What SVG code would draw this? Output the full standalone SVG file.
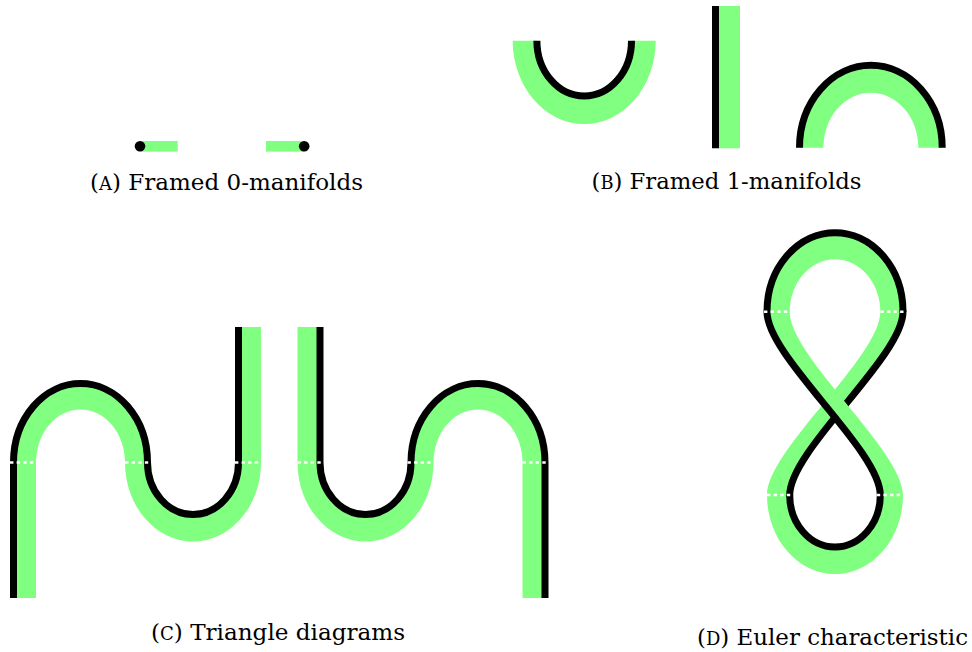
<svg xmlns="http://www.w3.org/2000/svg" width="972" height="652" viewBox="0 0 972 652">
<style>
.g{fill:#80ff80;stroke:none}
.k{fill:none;stroke:#000;stroke-width:7;stroke-linecap:butt}
.d{fill:none;stroke:#fff;stroke-width:2.5;stroke-dasharray:3.4 3.2}
.t{font-family:"DejaVu Serif","Liberation Serif",serif;font-size:23px;fill:#000}
.sc{font-size:18px}
</style>
<rect width="972" height="652" fill="#fff"/>

<g id="panel-a">
  <rect class="g" x="140" y="141" width="37.7" height="10.6"/>
  <circle cx="140" cy="146.3" r="5.3" fill="#000"/>
  <rect class="g" x="266" y="141" width="38.2" height="10.6"/>
  <circle cx="304.2" cy="146.3" r="5.3" fill="#000"/>
  <text class="t" x="90" y="190" textLength="273" lengthAdjust="spacingAndGlyphs">(<tspan class="sc">A</tspan>) Framed 0-manifolds</text>
</g>

<g id="panel-b">
  <path class="g" d="M512.7,40.7 A71.5,83.3 0 0 0 655.7,40.7 L631.5,40.7 A47.3,55.3 0 0 1 536.9,40.7 Z"/>
  <path class="k" d="M536.9,40.7 A47.3,55.3 0 0 0 631.5,40.7"/>
  <rect class="g" x="715.5" y="6" width="24.5" height="142.3"/>
  <path class="k" d="M715.5,6 V148.3"/>
  <path class="g" d="M799.5,147.7 A71.35,82.35 0 0 1 942.2,147.7 L918.35,147.7 A47.5,55 0 0 0 823.35,147.7 Z"/>
  <path class="k" d="M799.5,147.7 A71.35,82.35 0 0 1 942.2,147.7"/>
  <text class="t" x="591.5" y="189" textLength="270" lengthAdjust="spacingAndGlyphs">(<tspan class="sc">B</tspan>) Framed 1-manifolds</text>
</g>

<g id="panel-c">
  <path class="g" d="M13.5,598 V462.5 A67,79 0 0 1 147.5,462.5 A45.5,52 0 0 0 238.5,462.5 V327 H261 V462.5 A68,79 0 0 1 125,462.5 A44.5,53 0 0 0 36,462.5 V598 Z"/>
  <path class="k" d="M13.5,598 V462.5 A67,79 0 0 1 147.5,462.5 A45.5,52 0 0 0 238.5,462.5 V327"/>
  <path class="g" d="M545,598 V462.5 A67,79 0 0 0 411,462.5 A45.5,52 0 0 1 320,462.5 V327 H297.5 V462.5 A68,79 0 0 0 433.5,462.5 A44.5,53 0 0 1 522.5,462.5 V598 Z"/>
  <path class="k" d="M545,598 V462.5 A67,79 0 0 0 411,462.5 A45.5,52 0 0 1 320,462.5 V327"/>
  <path class="d" d="M10,462.5 H36 M125,462.5 H151 M235,462.5 H261 M297.5,462.5 H323.5 M407.5,462.5 H433.5 M522.5,462.5 H548.5"/>
  <text class="t" x="151" y="640" textLength="254" lengthAdjust="spacingAndGlyphs">(<tspan class="sc">C</tspan>) Triangle diagrams</text>
</g>

<g id="panel-d">
  <path class="g" d="M767,311.7 A68,79 0 0 1 903,311.7 L880.3,311.7 A45.3,52.4 0 0 0 789.7,311.7 Z"/>
  <path class="g" d="M767,495 A68,79 0 0 0 903,495 L880.3,495 A45.3,52 0 0 1 789.7,495 Z"/>
  <path class="g" d="M903,310.7 V311.7 C903,356.7 789.7,450 789.7,495 V496 H767 V495 C767,450 880.3,356.7 880.3,311.7 V310.7 Z"/>
  <path class="k" style="stroke-linecap:round" d="M903,311.7 C903,356.7 789.7,450 789.7,495"/>
  <path class="g" d="M767,310.7 V311.7 C767,356.7 880.3,450 880.3,495 V496 H903 V495 C903,450 789.7,356.7 789.7,311.7 V310.7 Z"/>
  <path class="k" d="M789.7,495 A45.3,52 0 0 0 880.3,495 C880.3,450 767,356.7 767,311.7 A68,79 0 0 1 903,311.7"/>
  <path class="d" d="M764,311.7 H789.7 M880.3,311.7 H906.5 M767,495 H793.2 M876.8,495 H903"/>
  <text class="t" x="697" y="645" textLength="271" lengthAdjust="spacingAndGlyphs">(<tspan class="sc">D</tspan>) Euler characteristic</text>
</g>
</svg>
